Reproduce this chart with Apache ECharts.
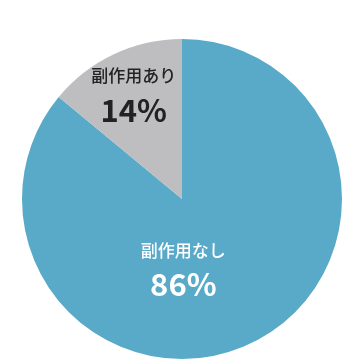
<!DOCTYPE html>
<html><head><meta charset="utf-8">
<script src="https://cdn.jsdelivr.net/npm/echarts@6/dist/echarts.min.js"></script>
<style>html,body{margin:0;padding:0;background:#fff}#c{width:360px;height:360px}</style>
</head><body><div id="c"></div>
<script>
const categories = ['副作用なし', '副作用あり'];
const values = [86, 14];
const colors = ['#59AAC9', '#BEBEC0'];
const textColors = ['#ffffff', '#222222'];
const labelShift = [[-34, -3], [-13, -27]];

const chart = echarts.init(document.getElementById('c'), null, {renderer: 'canvas'});
chart.setOption({
  animation: false,
  series: [{
    type: 'pie',
    center: [182, 199],
    radius: [0, 160],
    startAngle: 90,
    clockwise: true,
    silent: true,
    itemStyle: {borderWidth: 0},
    label: {
      show: true,
      position: 'inside',
      formatter: '{n|{b}}\n{v|{c}%}',
      rich: {
        n: {fontFamily: 'Noto Sans CJK JP', fontSize: 17, fontWeight: 500, lineHeight: 26, align: 'center'},
        v: {fontFamily: 'Noto Sans CJK JP', fontSize: 31, fontWeight: 'bold', lineHeight: 42, align: 'center'}
      }
    },
    labelLine: {show: false},
    labelLayout: function (p) {
      return {dx: labelShift[p.dataIndex][0], dy: labelShift[p.dataIndex][1]};
    },
    data: categories.map((c, i) => ({
      name: c, value: values[i],
      itemStyle: {color: colors[i]},
      label: {color: textColors[i], rich: {n: {color: textColors[i]}, v: {color: textColors[i]}}}
    }))
  }]
});
</script></body></html>
